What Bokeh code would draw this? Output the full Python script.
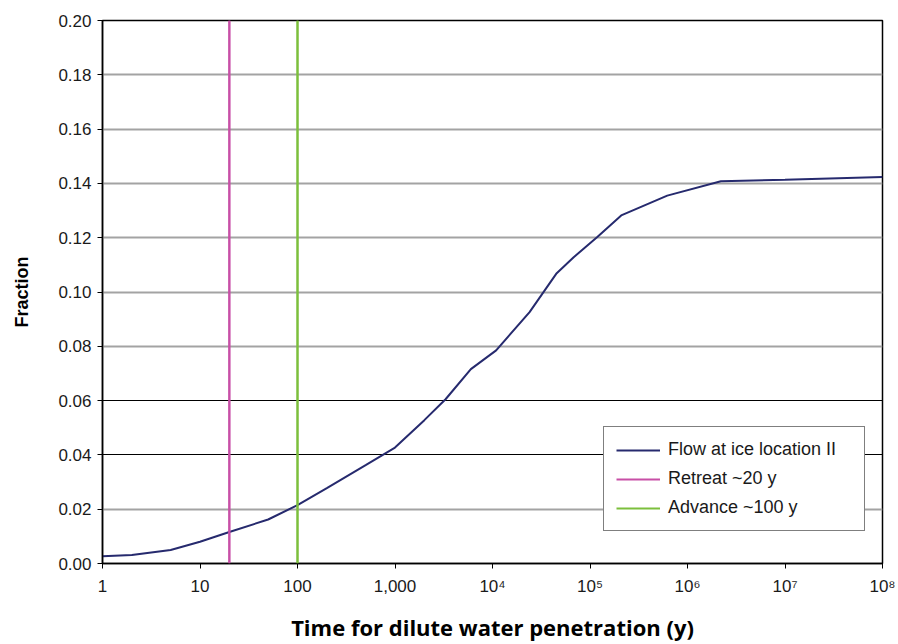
from bokeh.plotting import figure
from bokeh.models import (Range1d, FixedTicker, Span, Legend, LegendItem, Grid,
                          NumeralTickFormatter)
from bokeh.embed import file_html
from bokeh.resources import INLINE

# ---- data ----
time_y = [1, 2, 5, 10, 20, 50, 100, 200, 500, 1000, 2000, 3300, 6000, 10900,
          24000, 45000, 68000, 118000, 209000, 620000, 2200000, 10000000, 100000000]
fraction = [0.0027, 0.0031, 0.0050, 0.0080, 0.0116, 0.0162, 0.0215, 0.0278, 0.0362,
            0.0427, 0.0528, 0.0605, 0.0716, 0.0785, 0.0926, 0.1067, 0.1128, 0.1202,
            0.1282, 0.1355, 0.1408, 0.1413, 0.1424]
retreat_x = 20
advance_x = 100
series_names = ["Flow at ice location II", "Retreat ~20 y", "Advance ~100 y"]
x_ticks = [1, 10, 100, 1000, 1e4, 1e5, 1e6, 1e7, 1e8]
x_tick_labels = ["1", "10", "100", "1,000", "10⁴", "10⁵", "10⁶", "10⁷", "10⁸"]
y_ticks = [0.00, 0.02, 0.04, 0.06, 0.08, 0.10, 0.12, 0.14, 0.16, 0.18, 0.20]
dark_grid = [0.04, 0.06]
light_grid = [v for v in y_ticks if v not in dark_grid and 0 < v < 0.2]

FONT = "Liberation Sans"
NAVY = "#262a6e"
MAGENTA = "#c84fa6"
GREEN = "#7cbf3c"

p = figure(width=898, height=644, x_axis_type="log",
           x_range=Range1d(1, 1e8), y_range=Range1d(0, 0.2),
           output_backend="svg", toolbar_location=None,
           min_border_left=102, min_border_right=16,
           min_border_top=20, min_border_bottom=81)
p.background_fill_color = "white"
p.border_fill_color = "white"
p.outline_line_color = "black"
p.outline_line_width = 1.5

# grids
p.xgrid.visible = False
p.ygrid.ticker = FixedTicker(ticks=light_grid)
p.ygrid.grid_line_color = "#a3a3a3"
p.ygrid.grid_line_width = 2
g2 = Grid(dimension=1, ticker=FixedTicker(ticks=dark_grid),
          grid_line_color="black", grid_line_width=1.2)
p.add_layout(g2)

# axes
p.xaxis.ticker = FixedTicker(ticks=x_ticks)
p.xaxis.major_label_overrides = {t: l for t, l in zip(x_ticks, x_tick_labels)}
p.yaxis.ticker = FixedTicker(ticks=y_ticks)
p.yaxis.formatter = NumeralTickFormatter(format="0.00")
for ax in (p.xaxis[0], p.yaxis[0]):
    ax.axis_line_color = "black"
    ax.axis_line_width = 1.5
    ax.major_tick_line_color = "black"
    ax.major_tick_in = 0
    ax.major_tick_out = 5
    ax.minor_tick_line_color = None
    ax.major_label_text_font = FONT
    ax.major_label_text_font_size = "17px"
    ax.major_label_text_color = "#1a1a1a"
    ax.axis_label_text_color = "black"
    ax.axis_label_text_font_style = "bold"
p.xaxis.major_label_standoff = 8
p.yaxis.major_label_standoff = 6

p.xaxis.axis_label = "Time for dilute water penetration (y)"
p.xaxis.axis_label_text_font = "Open Sans"
p.xaxis.axis_label_text_font_size = "22px"
p.xaxis.axis_label_standoff = 13
p.yaxis.axis_label = "Fraction"
p.yaxis.axis_label_text_font = FONT
p.yaxis.axis_label_text_font_size = "18px"
p.yaxis.axis_label_standoff = 23

# glyphs
flow = p.line(time_y, fraction, line_color=NAVY, line_width=2)
ret = Span(location=retreat_x, dimension="height", line_color=MAGENTA, line_width=2)
adv = Span(location=advance_x, dimension="height", line_color=GREEN, line_width=2)
p.add_layout(ret)
p.add_layout(adv)

# legend proxies (same vertical lines, so the legend can show them)
ret_proxy = p.line([retreat_x, retreat_x], [0, 0.2], line_color=MAGENTA, line_width=2)
adv_proxy = p.line([advance_x, advance_x], [0, 0.2], line_color=GREEN, line_width=2)

legend = Legend(items=[LegendItem(label=series_names[0], renderers=[flow]),
                       LegendItem(label=series_names[1], renderers=[ret_proxy]),
                       LegendItem(label=series_names[2], renderers=[adv_proxy])],
                location=(501, 32))
legend.border_line_color = "black"
legend.border_line_width = 1.5
legend.background_fill_alpha = 1
legend.label_text_font = FONT
legend.label_text_font_size = "18px"
legend.label_text_color = "#1a1a1a"
legend.glyph_width = 44
legend.label_standoff = 8
legend.padding = 12
legend.spacing = 8
legend.label_height = 20
legend.glyph_height = 20
legend.label_width = 184
legend.margin = 0
p.add_layout(legend)

open("out.html", "w").write(file_html(p, INLINE))
